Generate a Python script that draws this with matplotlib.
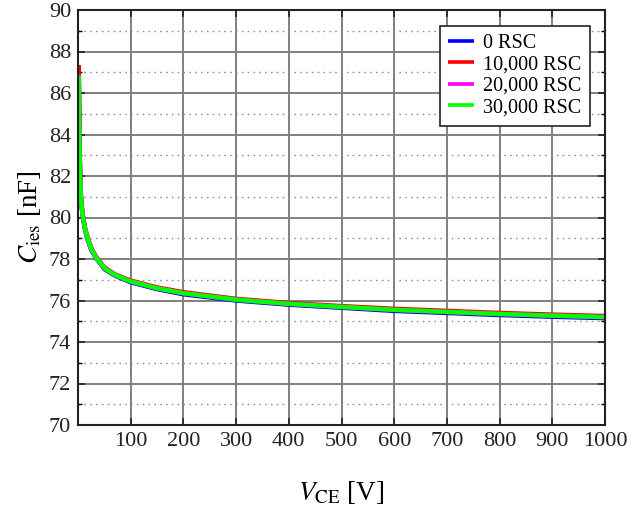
import matplotlib
matplotlib.use("Agg")
import matplotlib.pyplot as plt
from matplotlib.ticker import MultipleLocator

plt.rcParams['font.family'] = ['Liberation Serif', 'DejaVu Serif']
plt.rcParams['mathtext.fontset'] = 'stix'

# Data (V_CE in V, C_ies in nF)
v_ce = [1.5, 2.5, 4, 5.5, 7, 9.5, 13, 18, 25, 34, 50, 70, 100, 150, 200, 300, 400, 500, 600, 700, 800, 900, 1000]
c_0rsc     = [86.85, 84.0, 82.0, 81.0, 80.5, 80.0, 79.45, 78.95, 78.45, 78.05, 77.52, 77.2, 76.88, 76.55, 76.3, 76.0, 75.8, 75.65, 75.5, 75.4, 75.3, 75.22, 75.15]
c_10000rsc = [87.35, 84.2, 82.1, 81.1, 80.6, 80.1, 79.55, 79.05, 78.55, 78.12, 77.6, 77.26, 76.96, 76.63, 76.4, 76.08, 75.88, 75.73, 75.6, 75.5, 75.4, 75.32, 75.25]
c_20000rsc = [86.85, 84.0, 82.0, 81.0, 80.5, 80.0, 79.5, 79.0, 78.5, 78.08, 77.56, 77.23, 76.92, 76.59, 76.35, 76.04, 75.84, 75.69, 75.55, 75.45, 75.35, 75.27, 75.2]
c_30000rsc = [86.85, 84.0, 82.0, 81.0, 80.5, 80.0, 79.5, 79.0, 78.5, 78.08, 77.56, 77.23, 76.92, 76.59, 76.35, 76.04, 75.84, 75.69, 75.55, 75.45, 75.35, 75.27, 75.2]

series = [
    ("0 RSC", c_0rsc, "#0000ff"),
    ("10,000 RSC", c_10000rsc, "#ff0000"),
    ("20,000 RSC", c_20000rsc, "#ff00ff"),
    ("30,000 RSC", c_30000rsc, "#00ff00"),
]
x_ticks = [100, 200, 300, 400, 500, 600, 700, 800, 900, 1000]
y_ticks = [70, 72, 74, 76, 78, 80, 82, 84, 86, 88, 90]

fig = plt.figure(figsize=(6.31, 5.07), dpi=100)
ax = fig.add_axes([78/631, 1-425/507, (605-78)/631, (425-10)/507])

for label, vals, col in series:
    ax.plot(v_ce, vals, color=col, lw=3.2, label=label, solid_capstyle='butt')

ax.set_xlim(0, 1000)
ax.set_ylim(70, 90)
ax.set_xticks(x_ticks)
ax.set_yticks(y_ticks)
ax.yaxis.set_minor_locator(MultipleLocator(1))

ax.grid(which='major', color='#808080', lw=1.4, ls='-')
ax.grid(which='minor', axis='y', color='#909090', lw=1.0, ls=(0, (1.2, 3)))
ax.set_axisbelow(True)

ax.tick_params(which='major', direction='in', length=5, width=1.2, top=True, right=True,
               labelsize=16, colors='#222222', pad=5)
ax.tick_params(which='minor', direction='in', length=3, width=1.0, left=True, right=True,
               top=False, bottom=False)
ax.tick_params(axis='x', which='minor', bottom=False, top=False)
for s in ax.spines.values():
    s.set_linewidth(1.5)
    s.set_color('#222222')

ax.set_xlabel(r"$V_{\rm CE}$ [V]", fontsize=19.5, labelpad=20)
ax.set_ylabel(r"$C_{\rm ies}$ [nF]", fontsize=19.5, labelpad=4)

leg = ax.legend(loc='upper right', bbox_to_anchor=(0.971, 0.962), fontsize=14.5,
                frameon=True, fancybox=False, edgecolor='#222222', framealpha=1,
                handlelength=1.3, handletextpad=0.45, labelspacing=0.12,
                borderpad=0.4, borderaxespad=0)
leg.get_frame().set_linewidth(1.2)
for ln in leg.get_lines():
    ln.set_linewidth(2.6)

fig.savefig("out.png", dpi=100)
